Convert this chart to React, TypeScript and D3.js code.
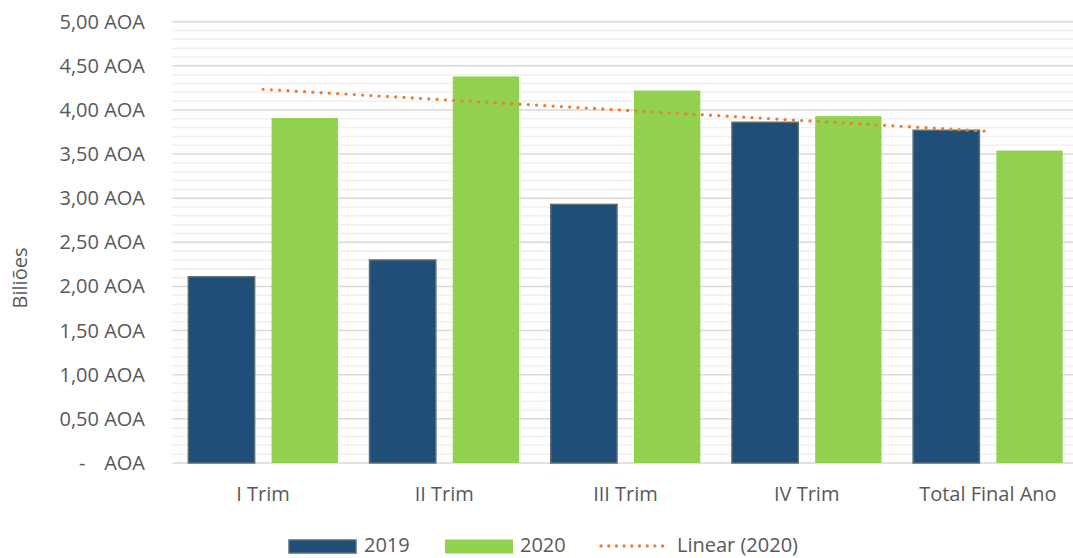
import React from "react";
import * as d3 from "d3";

const categories = ["I Trim", "II Trim", "III Trim", "IV Trim", "Total Final Ano"];
const seriesNames = ["2019", "2020"];
const values2019 = [2.11, 2.3, 2.93, 3.86, 3.77];
const values2020 = [3.91, 4.38, 4.22, 3.93, 3.54];
const majorTicks = [0, 0.5, 1, 1.5, 2, 2.5, 3, 3.5, 4, 4.5, 5];

const W = 1073;
const H = 558;
const FONT = "'Open Sans', 'Liberation Sans', sans-serif";
const TEXT = "#595959";
const C2019 = "#1f4e79";
const C2020 = "#92d050";
const TREND = "#ed7d31";

const fmt = (v: number) => v.toFixed(2).replace(".", ",");

export default function App() {
  // the category band runs slightly past the right edge of the drawing
  const plot = { left: 172.5, right: 1078.5, gridRight: 1073, top: 21.7, bottom: 463 };
  const x = d3.scaleBand<string>().domain(categories).range([plot.left, plot.right]).padding(0);
  const xs = d3
    .scaleBand<string>()
    .domain(seriesNames)
    .range([0, x.bandwidth()])
    .paddingInner(0.2036)
    .paddingOuter(0.19);
  const y = d3.scaleLinear().domain([0, 5]).range([plot.bottom, plot.top]);
  const minorTicks = d3.range(0, 5.0001, 0.1).filter((v) => Math.abs(v * 2 - Math.round(v * 2)) > 1e-6);

  // Least-squares linear trend over the 2020 series (x = 1..n)
  const n = values2020.length;
  const xsIdx = d3.range(1, n + 1);
  const mx = d3.mean(xsIdx)!;
  const my = d3.mean(values2020)!;
  const slope =
    d3.sum(xsIdx.map((k, i) => (k - mx) * (values2020[i] - my))) / d3.sum(xsIdx.map((k) => (k - mx) ** 2));
  const icpt = my - slope * mx;
  const trendPts: [number, number][] = categories.map((c, i) => [
    x(c)! + x.bandwidth() / 2,
    y(icpt + slope * (i + 1)),
  ]);
  const trendPath = d3.line()(trendPts)!;

  return (
    <div style={{ position: "absolute", left: 0, top: 0, width: W, height: H, background: "#fff" }}>
      <svg width={W} height={H} style={{ display: "block", fontFamily: FONT }}>
        {/* minor gridlines */}
        {minorTicks.map((v) => (
          <line key={"m" + v} x1={plot.left} x2={plot.gridRight} y1={y(v)} y2={y(v)} stroke="#f0f0f0" strokeWidth={1.5} />
        ))}
        {/* major gridlines */}
        {majorTicks.map((v) => (
          <line key={"g" + v} x1={plot.left} x2={plot.gridRight} y1={y(v)} y2={y(v)} stroke="#d9d9d9" strokeWidth={1.5} />
        ))}
        {/* y tick labels */}
        {majorTicks.map((v) =>
          v === 0 ? (
            <g key={"t" + v} fill={TEXT} fontSize={20}>
              <text x={79} y={y(v) + 7}>-</text>
              <text x={145} y={y(v) + 7} textAnchor="end">AOA</text>
            </g>
          ) : (
            <text key={"t" + v} x={145} y={y(v) + 7} textAnchor="end" fill={TEXT} fontSize={20}>
              {fmt(v)} AOA
            </text>
          )
        )}
        {/* bars */}
        {categories.map((c, i) => (
          <g key={c} transform={`translate(${x(c)},0)`}>
            <rect
              x={xs("2019")}
              y={y(values2019[i])}
              width={xs.bandwidth()}
              height={y(0) - y(values2019[i])}
              fill={C2019}
              stroke="#5d6e70"
              strokeWidth={1.5}
            />
            <rect
              x={xs("2020")}
              y={y(values2020[i])}
              width={xs.bandwidth()}
              height={y(0) - y(values2020[i])}
              fill={C2020}
            />
          </g>
        ))}
        {/* trend line */}
        <path d={trendPath} fill="none" stroke={TREND} strokeWidth={3.3} strokeDasharray="0 8.3" strokeLinecap="round" />
        {/* x category labels */}
        {categories.map((c) => (
          <text key={"x" + c} x={x(c)! + x.bandwidth() / 2} y={501} textAnchor="middle" fill={TEXT} fontSize={20}>
            {c}
          </text>
        ))}
        {/* y axis title */}
        <text transform="translate(27,278) rotate(-90)" textAnchor="middle" fill={TEXT} fontSize={20}>
          Biliões
        </text>
        {/* legend */}
        <g fontSize={20} fill={TEXT}>
          <rect x={289} y={540} width={67} height={13} fill={C2019} stroke="#5d6e70" strokeWidth={1.5} />
          <text x={364} y={552}>2019</text>
          <rect x={445} y={539.5} width={68} height={14} fill={C2020} />
          <text x={520} y={552}>2020</text>
          <line x1={601} x2={670} y1={546} y2={546} stroke={TREND} strokeWidth={3.3} strokeDasharray="0 7.7" strokeLinecap="round" />
          <text x={677} y={552}>Linear (2020)</text>
        </g>
      </svg>
    </div>
  );
}
